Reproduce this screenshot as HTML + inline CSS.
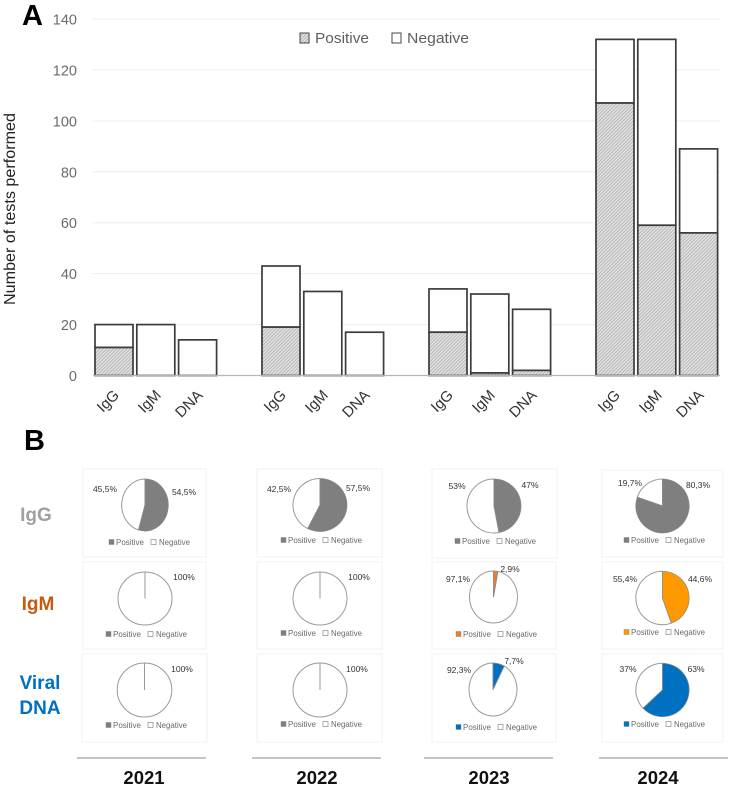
<!DOCTYPE html>
<html>
<head>
<meta charset="utf-8">
<title>Tests performed and positivity by year</title>
<style>
html,body{margin:0;padding:0;background:#fff;width:729px;height:787px;overflow:hidden}
svg{display:block;font-family:"Liberation Sans",sans-serif;filter:blur(0.35px)}
</style>
</head>
<body>
<svg id="fig" width="729" height="787" viewBox="0 0 729 787" xmlns="http://www.w3.org/2000/svg">
<defs>
<pattern id="hatch" width="2.4" height="2.4" patternUnits="userSpaceOnUse" patternTransform="rotate(-45)">
<rect width="2.4" height="2.4" fill="#e4e4e4"/>
<rect width="2.4" height="0.9" fill="#b0b0b0"/>
</pattern>
</defs>
</svg>
<script>
/* Panel A data */
const years = ['2021', '2022', '2023', '2024'];
const tests = ['IgG', 'IgM', 'DNA'];
const yTicks = [0, 20, 40, 60, 80, 100, 120, 140];
const iggPositiveCounts = [11, 19, 17, 107];
const iggNegativeCounts = [9, 24, 17, 25];
const igmPositiveCounts = [0, 0, 1, 59];
const igmNegativeCounts = [20, 33, 31, 73];
const dnaPositiveCounts = [0, 0, 2, 56];
const dnaNegativeCounts = [14, 17, 24, 33];

/* Panel B data: percent positive */
const iggPositivePct = [54.5, 57.5, 47, 80.3];
const igmPositivePct = [0, 0, 2.9, 44.6];
const dnaPositivePct = [0, 0, 7.7, 63];

const NS = 'http://www.w3.org/2000/svg';
const fig = document.getElementById('fig');

function make(tag, attrs) {
  const el = document.createElementNS(NS, tag);
  for (const k in attrs) el.setAttribute(k, attrs[k]);
  fig.appendChild(el);
  return el;
}
function label(str, attrs) {
  const el = make('text', attrs);
  el.textContent = str;
  return el;
}

/* ---------- Panel A ---------- */
const yScale = v => 375.5 - v * (356.5 / 140);
const groupX = g => 95 + g * 167;
const barX = (g, i) => groupX(g) + i * 41.8;
const barW = 38;

yTicks.forEach(t => {
  if (t > 0) {
    const grid = make('line', {x1: 93, x2: 720, y1: yScale(t), y2: yScale(t), stroke: '#ededed', 'stroke-width': 1});
    
    
  }
  const tick = label(String(t), {x: 77, y: yScale(t) + 5.5, 'text-anchor': 'end', 'font-size': 14.5, fill: '#6b6b6b'});
  
  
});

const positives = [iggPositiveCounts, igmPositiveCounts, dnaPositiveCounts];
const negatives = [iggNegativeCounts, igmNegativeCounts, dnaNegativeCounts];

years.forEach((yr, g) => {
  tests.forEach((test, i) => {
    const pos = positives[i][g];
    const neg = negatives[i][g];
    const x = barX(g, i);
    const negBar = make('rect', {x: x, y: yScale(pos + neg), width: barW, height: yScale(pos) - yScale(pos + neg), fill: '#fff', stroke: '#3c3c3c', 'stroke-width': 1.7});
    
    
    if (pos > 0) {
      const posBar = make('rect', {x: x, y: yScale(pos), width: barW, height: yScale(0) - yScale(pos), fill: 'url(#hatch)', stroke: '#3c3c3c', 'stroke-width': 1.7});
      
      
    }
    const ex = x + barW / 2 + 6;
    const cat = label(test, {x: ex, y: 396, 'text-anchor': 'end', 'font-size': 15, fill: '#333', transform: 'rotate(-45 ' + ex + ' 396)'});
    
    
  });
});

const baseline = make('line', {x1: 93, x2: 720, y1: yScale(0), y2: yScale(0), stroke: '#b5b5b5', 'stroke-width': 1.2});



const yTitle = label('Number of tests performed', {x: 0, y: 0, 'text-anchor': 'middle', 'font-size': 15.5, fill: '#222', textLength: 192, lengthAdjust: 'spacingAndGlyphs', transform: 'translate(15 209) rotate(-90)'});



const panelA = label('A', {x: 22, y: 25, 'font-size': 29, 'font-weight': 700, fill: '#000'});


const panelB = label('B', {x: 24, y: 450, 'font-size': 29, 'font-weight': 700, fill: '#000'});



const lgPosSw = make('rect', {x: 300, y: 33, width: 9, height: 10, fill: 'url(#hatch)', stroke: '#444', 'stroke-width': 1});


const lgPosTx = label('Positive', {x: 315, y: 43, 'font-size': 14.5, fill: '#5f5f5f', textLength: 54, lengthAdjust: 'spacingAndGlyphs'});


const lgNegSw = make('rect', {x: 392, y: 33, width: 9, height: 10, fill: '#fff', stroke: '#444', 'stroke-width': 1});


const lgNegTx = label('Negative', {x: 407, y: 43, 'font-size': 14.5, fill: '#5f5f5f', textLength: 62, lengthAdjust: 'spacingAndGlyphs'});



/* ---------- Panel B ---------- */
const pct = v => String(v).replace('.', ',') + '%';

function point(cx, cy, rx, ry, p) {
  const a = p / 100 * 2 * Math.PI;
  return [cx + rx * Math.sin(a), cy - ry * Math.cos(a)];
}
function slicePath(cx, cy, rx, ry, from, to) {
  const s = point(cx, cy, rx, ry, from);
  const m = point(cx, cy, rx, ry, (from + to) / 2);
  const e = point(cx, cy, rx, ry, to);
  const arc = q => 'A' + rx + ' ' + ry + ' 0 0 1 ' + q[0] + ' ' + q[1];
  return 'M' + cx + ' ' + cy + 'L' + s[0] + ' ' + s[1] + arc(m) + arc(e) + 'Z';
}

function drawPie(o) {
  const name = o.assay + '-' + o.year;
  const frame = make('rect', {x: o.left, y: o.top, width: o.w, height: o.h, fill: '#fff', stroke: '#f0f0f0', 'stroke-width': 1});
  
  

  const neg = make('path', {d: slicePath(o.cx, o.cy, o.rx, o.ry, o.value, 100), fill: '#fff', stroke: '#9a9a9a', 'stroke-width': 1});
  
  
  if (o.value > 0) {
    const pos = make('path', {d: slicePath(o.cx, o.cy, o.rx, o.ry, 0, o.value), fill: o.color, stroke: '#8a8a8a', 'stroke-width': 0.7});
    
    
    const posLbl = label(pct(o.value), {x: o.posLabel[0], y: o.posLabel[1] + 3, 'text-anchor': 'middle', 'font-size': 8.5, fill: '#333'});
    
    
  }
  const negLbl = label(pct(Math.round((100 - o.value) * 10) / 10), {x: o.negLabel[0], y: o.negLabel[1] + 3, 'text-anchor': 'middle', 'font-size': 8.5, fill: '#333'});
  
  

  const sw1 = make('rect', {x: o.legX, y: o.legY - 2.5, width: 5, height: 5, fill: o.color, stroke: '#777', 'stroke-width': 0.4});
  
  
  const t1 = label('Positive', {x: o.legX + 7, y: o.legY + 3, 'font-size': 8.5, fill: '#6a6a6a', textLength: 28, lengthAdjust: 'spacingAndGlyphs'});
  
  
  const sw2 = make('rect', {x: o.legX + 42, y: o.legY - 2.5, width: 5, height: 5, fill: '#fff', stroke: '#777', 'stroke-width': 0.6});
  
  
  const t2 = label('Negative', {x: o.legX + 50, y: o.legY + 3, 'font-size': 8.5, fill: '#6a6a6a', textLength: 31, lengthAdjust: 'spacingAndGlyphs'});
  
  
}

const G = '#7f7f7f', B = '#0070c0';
drawPie({assay:'igg',year:'2021',value:iggPositivePct[0],color:G,left:83,top:469,w:123,h:88,cx:145,cy:505,rx:23.3,ry:26,posLabel:[184,492],negLabel:[105,489],legX:109,legY:542});
drawPie({assay:'igg',year:'2022',value:iggPositivePct[1],color:G,left:257,top:469,w:125,h:88,cx:320,cy:505,rx:27,ry:26.5,posLabel:[358,488],negLabel:[279,489],legX:281,legY:540});
drawPie({assay:'igg',year:'2023',value:iggPositivePct[2],color:G,left:432,top:469,w:125,h:89,cx:494,cy:506,rx:27,ry:27,posLabel:[530,485],negLabel:[457,486],legX:455,legY:541});
drawPie({assay:'igg',year:'2024',value:iggPositivePct[3],color:G,left:602,top:470,w:121,h:87,cx:662.5,cy:506,rx:26.7,ry:27,posLabel:[698,485],negLabel:[630,483],legX:624,legY:540});

drawPie({assay:'igm',year:'2021',value:igmPositivePct[0],color:G,left:83,top:562,w:123,h:87,cx:145,cy:598.5,rx:27,ry:26.5,posLabel:[184,577],negLabel:[184,577],legX:106,legY:634});
drawPie({assay:'igm',year:'2022',value:igmPositivePct[1],color:G,left:257,top:562,w:125,h:87,cx:320,cy:598.5,rx:27,ry:26.5,posLabel:[359,577],negLabel:[359,577],legX:281,legY:633});
drawPie({assay:'igm',year:'2023',value:igmPositivePct[2],color:'#ed7d31',left:432,top:562,w:124,h:87,cx:493.5,cy:597,rx:24,ry:26,posLabel:[510,569],negLabel:[458,579],legX:456,legY:634});
drawPie({assay:'igm',year:'2024',value:igmPositivePct[3],color:'#ff9900',left:602,top:562,w:121,h:87,cx:662.5,cy:598,rx:26.7,ry:26.7,posLabel:[700,579],negLabel:[625,579],legX:624,legY:632});

drawPie({assay:'dna',year:'2021',value:dnaPositivePct[0],color:G,left:82,top:654,w:125,h:88,cx:144.5,cy:690,rx:27.3,ry:27,posLabel:[182,669],negLabel:[182,669],legX:106,legY:725});
drawPie({assay:'dna',year:'2022',value:dnaPositivePct[1],color:G,left:257,top:654,w:125,h:88,cx:320,cy:690,rx:27,ry:27,posLabel:[357,669],negLabel:[357,669],legX:281,legY:724});
drawPie({assay:'dna',year:'2023',value:dnaPositivePct[2],color:B,left:432,top:654,w:124,h:88,cx:493,cy:689.5,rx:24,ry:26.5,posLabel:[514,661],negLabel:[459,670],legX:456,legY:727});
drawPie({assay:'dna',year:'2024',value:dnaPositivePct[3],color:B,left:602,top:654,w:121,h:88,cx:662.5,cy:690,rx:26.7,ry:26.7,posLabel:[696,669],negLabel:[628,669],legX:624,legY:724});

const rowIgG = label('IgG', {x: 36, y: 521, 'text-anchor': 'middle', 'font-size': 19, 'font-weight': 700, fill: '#a0a0a0'});


const rowIgM = label('IgM', {x: 38, y: 610, 'text-anchor': 'middle', 'font-size': 19, 'font-weight': 700, fill: '#c55a11'});


const rowV = label('Viral', {x: 40, y: 689, 'text-anchor': 'middle', 'font-size': 19, 'font-weight': 700, fill: '#0070c0'});


const rowD = label('DNA', {x: 40, y: 714, 'text-anchor': 'middle', 'font-size': 19, 'font-weight': 700, fill: '#0070c0'});



const yearLeft = i => [77, 252, 424, 599][i];
const yearCenter = i => [144, 317, 489, 658][i];
years.forEach((yr, i) => {
  const rule = make('line', {x1: yearLeft(i), x2: yearLeft(i) + 129, y1: 758, y2: 758, stroke: '#b0b0b0', 'stroke-width': 1.6});
  
  
  const yt = label(yr, {x: yearCenter(i), y: 784, 'text-anchor': 'middle', 'font-size': 18.5, 'font-weight': 700, fill: '#111'});
  
  
});
</script>
</body>
</html>
